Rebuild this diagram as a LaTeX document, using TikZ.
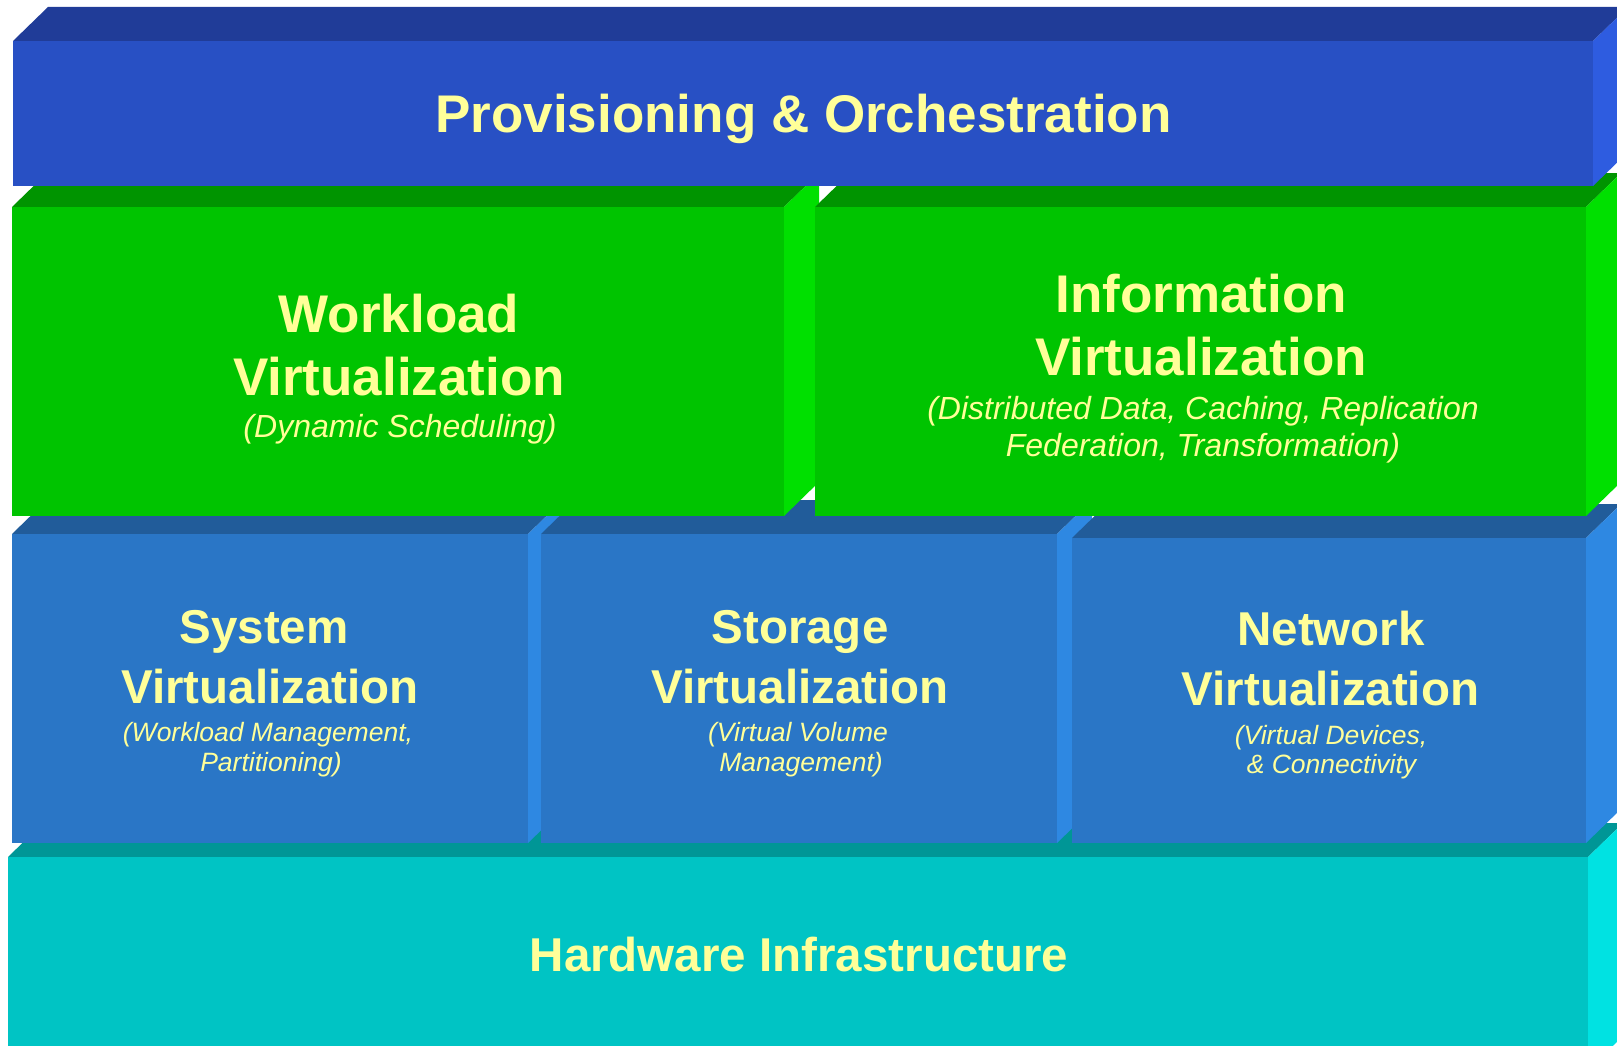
\documentclass[tikz,border=0pt]{standalone}
\usepackage{fontspec}
\setmainfont{Liberation Sans}
\definecolor{txt}{HTML}{FFFF99}
\definecolor{pfront}{HTML}{2850C4}
\definecolor{ptop}{HTML}{203C98}
\definecolor{pside}{HTML}{2E5CE0}
\definecolor{gfront}{HTML}{00C400}
\definecolor{gtop}{HTML}{009400}
\definecolor{gside}{HTML}{00E000}
\definecolor{bfront}{HTML}{2A76C6}
\definecolor{btop}{HTML}{215C9A}
\definecolor{bside}{HTML}{2E88E2}
\definecolor{cfront}{HTML}{00C4C4}
\definecolor{ctop}{HTML}{009696}
\definecolor{cside}{HTML}{00E2E2}
% slab: x1,y1,x2,y2 (pixel coords, y downward), front, top, side colours
\newcommand\slab[7]{%
  \fill[#6] (#1,#2) -- (#1+35,#2-34) -- (#3+35,#2-34) -- (#3,#2) -- cycle;
  \fill[#7] (#3,#2) -- (#3+35,#2-34) -- (#3+35,#4-34) -- (#3,#4) -- cycle;
  \fill[#5] (#1,#2) rectangle (#3,#4);
}
\begin{document}
\begin{tikzpicture}[x=1pt,y=-1pt,
  ttl/.style={text=txt, font=\bfseries\fontsize{53}{60}\selectfont, anchor=base, inner sep=0pt},
  ttls/.style={ttl, font=\bfseries\fontsize{47.5}{55}\selectfont},
  subl/.style={text=txt, font=\itshape\fontsize{32}{36}\selectfont, anchor=base, inner sep=0pt},
  subs/.style={subl, font=\itshape\fontsize{26.5}{30}\selectfont}]
\useasboundingbox (0,0) rectangle (1617,1046);
\clip (0,0) rectangle (1617,1046);
\fill[white] (0,0) rectangle (1617,1046);
% bottom layer
\slab{8}{857}{1588}{1070}{cfront}{ctop}{cside}
% middle row
\slab{12}{534}{528}{843}{bfront}{btop}{bside}
\slab{541}{534}{1057}{843}{bfront}{btop}{bside}
\slab{1072}{538}{1586}{843}{bfront}{btop}{bside}
% green row
\slab{12}{207}{784}{516}{gfront}{gtop}{gside}
\slab{815}{207}{1586}{516}{gfront}{gtop}{gside}
% top layer
\slab{13}{41}{1593}{186}{pfront}{ptop}{pside}

% texts
\node[ttl] (prov) at (803.5,133) {Provisioning \& Orchestration};

\node[ttl] (wl1) at (399,332) {Workload};
\node[ttl] (wl2) at (399,395) {Virtualization};
\node[subl] (wl3) at (400,437) {(Dynamic Scheduling)};

\node[ttl] (in1) at (1201,312) {Information};
\node[ttl] (in2) at (1201,375) {Virtualization};
\node[subl] (in3) at (1203,419) {(Distributed Data, Caching, Replication};
\node[subl] (in4) at (1203,456) {Federation, Transformation)};

\node[ttls] (sy1) at (264,643) {System};
\node[ttls] (sy2) at (270,703) {Virtualization};
\node[subs] (sy3) at (268,741) {(Workload Management,};
\node[subs] (sy4) at (271,771) {Partitioning)};

\node[ttls] (st1) at (800,643) {Storage};
\node[ttls] (st2) at (800,703) {Virtualization};
\node[subs] (st3) at (798,741) {(Virtual Volume};
\node[subs] (st4) at (801,771) {Management)};

\node[ttls] (nw1) at (1331,645) {Network};
\node[ttls] (nw2) at (1330.5,705) {Virtualization};
\node[subs] (nw3) at (1331,744) {(Virtual Devices,};
\node[subs] (nw4) at (1331.5,773) {\& Connectivity};

\node[ttls] (hw) at (799,971) {Hardware Infrastructure};
\end{tikzpicture}
\end{document}
